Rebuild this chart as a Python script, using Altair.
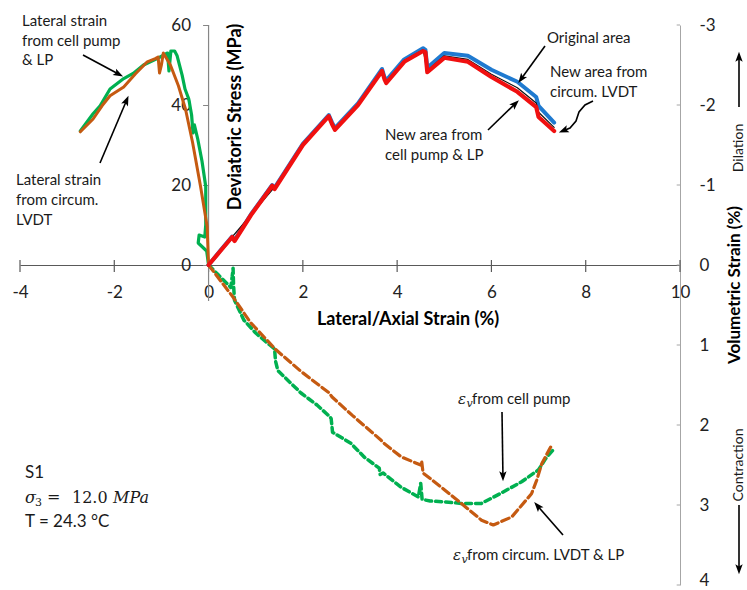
import math
import altair as alt
import pandas as pd

# ---------------- data ----------------
# Deviatoric stress (MPa) vs axial strain (%)
orig_area_x = [0, 0.25, 0.5, 0.55, 0.9, 1.35, 1.4, 2.0, 2.55, 2.62, 2.68, 3.17, 3.68, 3.73, 3.77, 4.15, 4.55, 4.6, 4.64, 5.0, 5.5, 6.0, 6.55, 6.95, 7.0, 7.33]
orig_area_s = [0, 3.6, 7.1, 6.2, 12.7, 20.0, 19.3, 30.3, 37.5, 35.6, 34.2, 40.4, 49.0, 47.0, 46.2, 51.4, 54.2, 53.8, 49.3, 53.0, 52.3, 48.8, 45.8, 42.0, 39.8, 35.6]

pump_area_x = [0, 0.5, 1.4, 2.0, 2.55, 2.68, 3.17, 3.68, 3.77, 4.15, 4.55, 4.64, 5.0, 5.5, 6.0, 6.55, 6.95, 7.0, 7.33]
pump_area_s = [0, 7.0, 19.5, 30.1, 37.4, 34.0, 40.2, 48.8, 45.8, 51.1, 53.8, 48.6, 52.3, 51.4, 47.7, 44.3, 40.5, 38.2, 34.4]

lvdt_area_x = [0, 0.25, 0.5, 0.55, 0.9, 1.35, 1.4, 2.0, 2.55, 2.62, 2.68, 3.17, 3.68, 3.73, 3.77, 4.15, 4.55, 4.6, 4.64, 5.0, 5.5, 6.0, 6.55, 6.95, 7.0, 7.33]
lvdt_area_s = [0, 3.5, 7.0, 6.0, 12.5, 19.8, 19.0, 30.0, 37.2, 35.2, 33.8, 40.0, 48.5, 46.5, 45.5, 50.8, 53.5, 53.2, 48.2, 51.8, 50.8, 47.0, 43.3, 39.5, 37.0, 33.5]

# Deviatoric stress (MPa) vs lateral strain (%)
lat_pump_x = [0, -0.04, -0.22, -0.2, -0.08, -0.06, -0.06, -0.14, -0.23, -0.3, -0.33, -0.36, -0.42, -0.5, -0.56, -0.67, -0.72, -0.8, -0.84, -0.87, -0.95, -1.09, -1.38, -1.6, -1.8, -2.09, -2.3, -2.45, -2.72]
lat_pump_s = [0, 3.5, 5.5, 7.5, 7.0, 10.0, 19.6, 26.0, 31.5, 35.0, 33.0, 37.5, 41.5, 44.0, 47.4, 52.4, 53.5, 53.5, 48.5, 53.0, 52.5, 51.6, 50.0, 47.9, 46.6, 44.0, 39.8, 37.8, 33.5]

lat_lvdt_x = [0, -0.03, -0.17, -0.34, -0.49, -0.64, -0.81, -0.96, -1.0, -1.04, -1.07, -1.13, -1.3, -1.55, -1.8, -2.09, -2.26, -2.45, -2.72]
lat_lvdt_s = [0, 9.6, 19.6, 30.7, 39.0, 44.8, 50.0, 53.0, 50.0, 48.0, 52.0, 51.6, 50.8, 47.8, 44.5, 42.3, 39.8, 36.5, 33.3]

# Volumetric strain (%) vs axial strain (%)
ev_pump_x = [0, 0.2, 0.47, 0.5, 0.52, 0.53, 0.55, 0.75, 1.0, 1.3, 1.4, 1.42, 1.47, 1.96, 2.3, 2.58, 2.6, 2.63, 3.02, 3.3, 3.62, 3.64, 3.7, 4.09, 4.45, 4.5, 4.53, 4.7, 5.0, 5.36, 5.79, 6.21, 6.64, 7.0, 7.15, 7.34]
ev_pump_v = [0, 0.12, 0.28, 0.15, 0.04, 0.25, 0.44, 0.69, 0.85, 1.0, 1.05, 1.2, 1.32, 1.6, 1.75, 1.9, 1.92, 2.09, 2.23, 2.4, 2.54, 2.62, 2.6, 2.78, 2.9, 2.73, 2.93, 2.95, 2.96, 2.98, 2.98, 2.85, 2.71, 2.56, 2.42, 2.29]

ev_lvdt_x = [0, 0.53, 0.89, 1.43, 1.96, 2.56, 2.62, 3.05, 3.66, 3.7, 4.09, 4.5, 4.52, 4.55, 4.94, 5.36, 5.79, 6.04, 6.43, 6.85, 6.96, 7.07, 7.28]
ev_lvdt_v = [0, 0.41, 0.72, 1.06, 1.33, 1.6, 1.65, 1.88, 2.19, 2.22, 2.4, 2.5, 2.45, 2.6, 2.78, 2.98, 3.19, 3.25, 3.15, 2.86, 2.69, 2.48, 2.25]

x_ticks = [-4, -2, 0, 2, 4, 6, 8, 10]
s_ticks = [0, 20, 40, 60]
v_ticks = [-3, -2, -1, 0, 1, 2, 3, 4]

# ---------------- scales / helpers ----------------
X_SCALE = alt.Scale(domain=[-4, 10], nice=False, zero=False)
S_SCALE = alt.Scale(domain=[-80, 60], nice=False, zero=False)
V_SCALE = alt.Scale(domain=[-3, 4], reverse=True, nice=False, zero=False)

X_AXIS = alt.Axis(values=x_ticks, offset=-320, domainColor="#595959", domainWidth=1.2,
                  ticks=False, tickSize=0, labelPadding=19, labelFontSize=17, labelFont="Lato",
                  labelColor="#222222", labelExpr="'' + datum.value", labelFlush=False,
                  labelOverlap=False, grid=False, title=None)
X_ENC = alt.X("x:Q", scale=X_SCALE, axis=X_AXIS)

# pixel -> data helpers for annotation placement only
PX_X0, PX_PER_X = 208.57, 47.143
PX_Y0, PX_PER_S = 265.0, 4.0


def fx(px):
    return (px - PX_X0) / PX_PER_X


def fs(py):
    return (PX_Y0 - py) / PX_PER_S


def frame(xs, ys):
    return pd.DataFrame({"x": xs, "y": ys, "i": list(range(len(xs)))})


def line(xs, ys, color, width, scale, dash=None, axis=None):
    kw = dict(color=color, strokeWidth=width, strokeCap="round", strokeJoin="round")
    if dash:
        kw["strokeDash"] = dash
    return alt.Chart(frame(xs, ys)).mark_line(**kw).encode(
        x=X_ENC, y=alt.Y("y:Q", scale=scale, axis=axis), order="i:Q")


def texts(rows, **mark):
    df = pd.DataFrame([{"x": fx(a), "y": fs(b), "t": t} for a, b, t in rows])
    return alt.Chart(df).mark_text(**mark).encode(
        x=X_ENC, y=alt.Y("y:Q", scale=S_SCALE, axis=None), text="t:N")


LEFT_AXIS = alt.Axis(values=s_ticks, orient="left", offset=-188.57, domain=False,
                     tickColor="#868686", tickSize=6, labelPadding=12, labelFontSize=17,
                     labelFont="Lato", labelColor="#222222", grid=False, title=None,
                     labelFlush=False)
RIGHT_AXIS = alt.Axis(values=v_ticks, orient="right", domainColor="#A6A6A6", ticks=False,
                      tickSize=0, labelPadding=19, labelFontSize=17, labelFont="Lato",
                      labelColor="#222222", labelAlign="left", labelExpr="'' + datum.value",
                      labelBaseline={"condition": {"test": "datum.value === 4", "value": "alphabetic"},
                                     "value": "middle"},
                      labelFlush=False, labelOverlap=False, grid=False, title=None)

# ---------------- axis helper marks ----------------
xtick_df = pd.DataFrame({"x": x_ticks, "y": [1.25] * len(x_ticks), "y2": [-1.75] * len(x_ticks)})
xticks = alt.Chart(xtick_df).mark_rule(color="#595959", strokeWidth=1.2).encode(
    x=X_ENC, y=alt.Y("y:Q", scale=S_SCALE, axis=None), y2="y2")

left_line = alt.Chart(pd.DataFrame({"x": [0], "y": [-9], "y2": [60]})).mark_rule(
    color="#868686", strokeWidth=1.2).encode(
    x=X_ENC, y=alt.Y("y:Q", scale=S_SCALE, axis=LEFT_AXIS), y2="y2")

vtick_df = pd.DataFrame({"x": [9.93] * len(v_ticks), "x2": [10] * len(v_ticks), "y": v_ticks})
vticks = alt.Chart(vtick_df).mark_rule(color="#A6A6A6", strokeWidth=1).encode(
    x=X_ENC, x2="x2", y=alt.Y("y:Q", scale=V_SCALE, axis=RIGHT_AXIS))

# ---------------- series ----------------
GREEN = "#00B050"
BROWN = "#C55A11"
RED = "#F01010"
BLUE = "#1F7AD0"

ev_pump = line(ev_pump_x, ev_pump_v, GREEN, 3.5, V_SCALE, dash=[6, 4])
ev_lvdt = line(ev_lvdt_x, ev_lvdt_v, BROWN, 3.2, V_SCALE, dash=[8, 4])
lat_pump = line(lat_pump_x, lat_pump_s, GREEN, 3.2, S_SCALE)
lat_lvdt = line(lat_lvdt_x, lat_lvdt_s, BROWN, 3.0, S_SCALE)
orig = line(orig_area_x, orig_area_s, BLUE, 4.0, S_SCALE)
pump = line(pump_area_x, pump_area_s, "#111111", 1.2, S_SCALE)
lvdt = line(lvdt_area_x, lvdt_area_s, RED, 4.2, S_SCALE)

# ---------------- annotations ----------------
ann_rows = [
    (22, 21, "Lateral strain"), (22, 41, "from cell pump"), (22, 60, "& LP"),
    (16, 180, "Lateral strain"), (16, 200, "from circum."), (16, 220, "LVDT"),
    (547, 38, "Original area"),
    (550, 72, "New area from"), (550, 92, "circum. LVDT"),
    (385, 135, "New area from"), (385, 155, "cell pump & LP"),
    (472, 399, "from cell pump"),
    (467, 555, "from circum. LVDT & LP"),
]
ann = texts(ann_rows, align="left", baseline="middle", font="Lato", fontSize=15, color="#1a1a1a")
eps = texts([(458, 399, "ε"), (453, 555, "ε")], align="left", baseline="middle",
            font="DejaVu Serif", fontStyle="italic", fontSize=15, color="#1a1a1a")
eps_sub = texts([(466.5, 404, "v"), (461.5, 560, "v")], align="left", baseline="middle",
                font="DejaVu Serif", fontStyle="italic", fontSize=11, color="#1a1a1a")

info = texts([(25, 473, "S1"), (25, 522, "T = 24.3 °C")], align="left", baseline="middle",
             font="Lato", fontSize=17, color="#1a1a1a")
sigma_it = texts([(25, 498, "σ"), (113, 498, "MPa")], align="left", baseline="middle",
                 font="DejaVu Serif", fontStyle="italic", fontSize=16, color="#1a1a1a")
sigma_up = texts([(47, 497, "="), (72, 498, "12.0")], align="left", baseline="middle",
                 font="DejaVu Serif", fontSize=16, color="#1a1a1a")
sigma_sub = texts([(35, 503, "3")], align="left", baseline="middle",
                  font="DejaVu Serif", fontSize=11, color="#1a1a1a")

x_title = texts([(408, 320, "Lateral/Axial Strain (%)")], align="center", baseline="middle",
                font="Lato", fontWeight="bold", fontSize=18, color="#000000")
left_title = texts([(236, 117, "Deviatoric Stress (MPa)")],
                   align="center", baseline="middle", angle=270, font="Lato",
                   fontWeight="bold", fontSize=18, color="#000000")
right_title = texts([(735, 285, "Volumetric  Strain (%)")],
                    align="center", baseline="middle", angle=270, font="Lato",
                    fontWeight="bold", fontSize=17, color="#000000")
rot_small = texts([(739, 148, "Dilation"), (739, 465, "Contraction")], align="center",
                  baseline="middle", angle=270, font="Lato", fontSize=14, color="#1a1a1a")

# arrows (annotation pointers)
arrows_px = [
    [(83, 55), (122, 76)],
    [(100, 163), (128, 97)],
    [(545, 46), (519, 82)],
    [(593, 101), (585, 105), (579, 112), (576, 121), (570, 128), (560, 132)],
    [(488, 130), (518, 101)],
    [(502, 412), (503, 480)],
    [(563, 535), (535, 503)],
    [(739, 107), (739, 53)],
    [(739, 505), (739, 573)],
]
arrow_rows, head_rows = [], []
for g, pts in enumerate(arrows_px):
    (x1, y1), (x2, y2) = pts[-2], pts[-1]
    dx, dy = x2 - x1, y2 - y1
    L = math.hypot(dx, dy)
    ux, uy = dx / L, dy / L
    for j, (px, py) in enumerate(pts):
        if j == len(pts) - 1:
            px, py = px - ux * 3, py - uy * 3
        arrow_rows.append({"x": fx(px), "y": fs(py), "g": g, "i": j})
    ang = math.degrees(math.atan2(dx, -dy)) % 360
    head_rows.append({"x": fx(x2 - ux * 4), "y": fs(y2 - uy * 4), "a": ang})

arrow_lines = alt.Chart(pd.DataFrame(arrow_rows)).mark_line(
    color="#000000", strokeWidth=1.6).encode(
    x=X_ENC, y=alt.Y("y:Q", scale=S_SCALE, axis=None), detail="g:N", order="i:Q")
arrow_heads = alt.Chart(pd.DataFrame(head_rows)).mark_point(
    shape="M0,-1L0.7,0.9L0,0.5L-0.7,0.9Z", filled=True, color="#000000", opacity=1,
    size=110).encode(
    x=X_ENC, y=alt.Y("y:Q", scale=S_SCALE, axis=None), angle=alt.Angle("a:Q", scale=None))

chart = alt.layer(
    xticks, left_line, vticks,
    ev_pump, ev_lvdt, lat_pump, lat_lvdt, orig, pump, lvdt,
    ann, eps, eps_sub, info, sigma_it, sigma_up, sigma_sub,
    x_title, left_title, right_title, rot_small, arrow_lines, arrow_heads,
).resolve_scale(y="independent").properties(
    width=660, height=560,
    autosize=alt.AutoSizeParams(type="none"),
    padding={"left": 20, "top": 25, "right": 67, "bottom": 5},
    background="white",
).configure_view(stroke=None)

chart.save("out.html", embed_options={"renderer": "svg", "actions": False})
